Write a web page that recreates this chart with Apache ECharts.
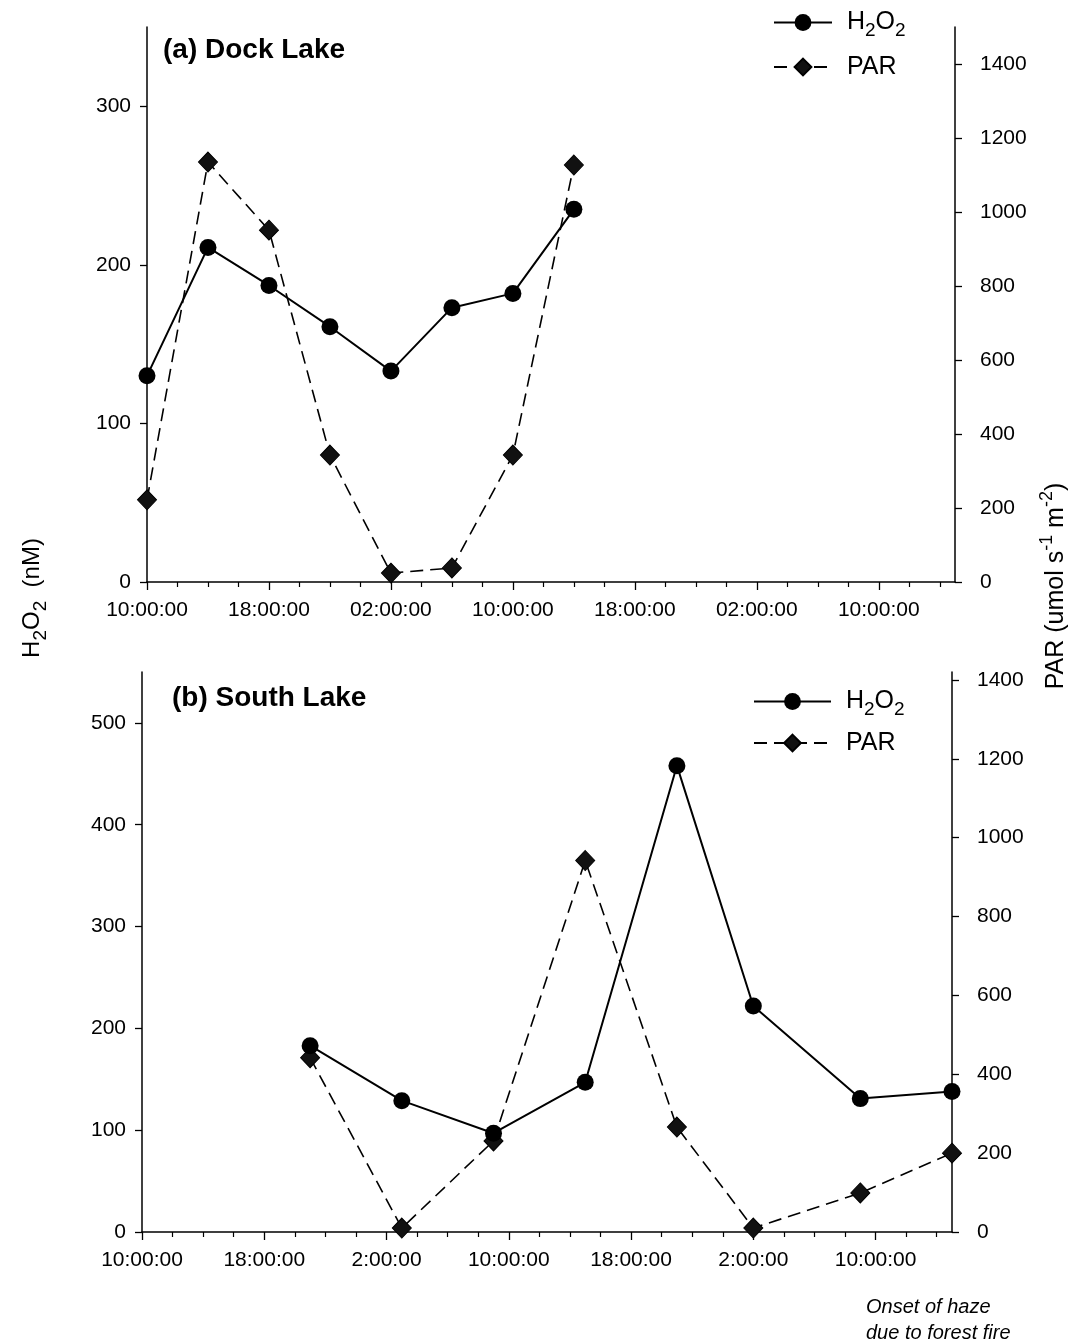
<!DOCTYPE html>
<html>
<head>
<meta charset="utf-8">
<script src="https://cdn.jsdelivr.net/npm/echarts@6/dist/echarts.min.js"></script>
<style>
html,body{margin:0;padding:0;background:#fff;}
#chart{width:1086px;height:1344px;}
</style>
</head>
<body>
<div id="chart"></div>
<script>
// ---- data (hours since 10:00:00 of first day) ----
const hoursTop = [0, 4, 8, 12, 16, 20, 24, 28];
const h2o2Top = [130, 211, 187, 161, 133, 173, 182, 235];
const parTop = [222, 1135, 951, 343, 24, 38, 343, 1127];

const hoursBottom = [11, 17, 23, 29, 35, 40, 47, 53];
const h2o2Bottom = [183, 129, 97, 147, 458, 222, 131, 138];
const parBottom = [442, 10, 231, 942, 266, 10, 99, 200];

const majorHours = [0, 8, 16, 24, 32, 40, 48];
const tickLabelsTop = ['10:00:00', '18:00:00', '02:00:00', '10:00:00', '18:00:00', '02:00:00', '10:00:00'];
const tickLabelsBottom = ['10:00:00', '18:00:00', '2:00:00', '10:00:00', '18:00:00', '2:00:00', '10:00:00'];
const leftTicksTop = [0, 100, 200, 300];
const rightTicksTop = [0, 200, 400, 600, 800, 1000, 1200, 1400];
const leftTicksBottom = [0, 100, 200, 300, 400, 500];
const rightTicksBottom = [0, 200, 400, 600, 800, 1000, 1200, 1400];

const FONT = '"Liberation Sans", Arial, Helvetica, sans-serif';
const minorHours = [];
for (let h = 2; h < 53; h += 2) if (h % 8 !== 0) minorHours.push(h);

const chart = echarts.init(document.getElementById('chart'));

function xMain(grid, labels) {
  return {
    type: 'value', gridIndex: grid, position: 'bottom', min: 0, max: 53,
    axisLine: { show: true, onZero: false, lineStyle: { color: '#000', width: 1.5 } },
    axisTick: { show: true, length: 8, lineStyle: { color: '#000', width: 1.3 }, customValues: majorHours },
    axisLabel: {
      customValues: majorHours, margin: 18, color: '#000', fontSize: 21, fontFamily: FONT,
      formatter: v => labels[majorHours.indexOf(Math.round(v))] || ''
    },
    splitLine: { show: false }
  };
}
function xMinor(grid) {
  return {
    type: 'value', gridIndex: grid, position: 'bottom', min: 0, max: 53,
    axisLine: { show: false, onZero: false },
    axisTick: { show: true, length: 5, lineStyle: { color: '#000', width: 1.2 }, customValues: minorHours },
    axisLabel: { show: false },
    splitLine: { show: false }
  };
}
function yAx(grid, pos, max, ticks, margin) {
  return {
    type: 'value', gridIndex: grid, position: pos, min: 0, max: max,
    axisLine: { show: true, onZero: false, lineStyle: { color: '#000', width: 1.5 } },
    axisTick: { show: true, length: 7, lineStyle: { color: '#000', width: 1.3 }, customValues: ticks },
    axisLabel: { customValues: ticks, margin: margin, color: '#000', fontSize: 21, fontFamily: FONT,
      formatter: v => String(v) },
    splitLine: { show: false }
  };
}
function pairs(xs, ys) { return xs.map((x, i) => [x, ys[i]]); }

const h2Style = { color: '#000', width: 2 };
const parLine = { color: '#000', width: 1.6, type: [13, 7] };

function legend(left, top, itemW, gap) {
  return {
    orient: 'vertical', left: left, top: top, itemWidth: itemW, itemHeight: 21, itemGap: gap,
    data: ['H2O2', 'PAR'],
    textStyle: {
      color: '#000', fontSize: 25, fontFamily: FONT, padding: [0, 0, 0, 10],
      rich: {
        n: { fontSize: 25, fontFamily: FONT, color: '#000', lineHeight: 36, verticalAlign: 'middle' },
        s: { fontSize: 19, fontFamily: FONT, color: '#000', lineHeight: 36, verticalAlign: 'bottom' }
      }
    },
    formatter: name => name === 'H2O2' ? '{n|H}{s|2}{n|O}{s|2}' : '{n|PAR}'
  };
}

const option = {
  backgroundColor: '#fff',
  animation: false,
  grid: [
    { left: 147, right: 131, top: 27, height: 555 },
    { left: 142, right: 134, top: 672, height: 560 }
  ],
  xAxis: [xMain(0, tickLabelsTop), xMinor(0), xMain(1, tickLabelsBottom), xMinor(1)],
  yAxis: [
    yAx(0, 'left', 350, leftTicksTop, 16),
    yAx(0, 'right', 1500, rightTicksTop, 25),
    yAx(1, 'left', 550, leftTicksBottom, 16),
    yAx(1, 'right', 1420, rightTicksBottom, 25)
  ],
  legend: [legend(768, 5, 58, 14), legend(748, 684, 77, 11)],
  series: [
    { name: 'H2O2', type: 'line', xAxisIndex: 0, yAxisIndex: 0, data: pairs(hoursTop, h2o2Top),
      symbol: 'circle', symbolSize: 17, lineStyle: h2Style, itemStyle: { color: '#000' }, clip: false, z: 3 },
    { name: 'PAR', type: 'line', xAxisIndex: 0, yAxisIndex: 1, data: pairs(hoursTop, parTop),
      symbol: 'diamond', symbolSize: [19, 20], lineStyle: parLine, itemStyle: { color: '#111', borderColor: '#000', borderWidth: 1 }, clip: false, z: 2 },
    { name: 'H2O2', type: 'line', xAxisIndex: 2, yAxisIndex: 2, data: pairs(hoursBottom, h2o2Bottom),
      symbol: 'circle', symbolSize: 17, lineStyle: h2Style, itemStyle: { color: '#000' }, clip: false, z: 3 },
    { name: 'PAR', type: 'line', xAxisIndex: 2, yAxisIndex: 3, data: pairs(hoursBottom, parBottom),
      symbol: 'diamond', symbolSize: [19, 20], lineStyle: parLine, itemStyle: { color: '#111', borderColor: '#000', borderWidth: 1 }, clip: false, z: 2 }
  ],
  graphic: [
    { type: 'text', left: 163, top: 36, style: { text: '(a) Dock Lake', font: 'bold 28px ' + FONT, fill: '#000' } },
    { type: 'text', left: 172, top: 684, style: { text: '(b) South Lake', font: 'bold 28px ' + FONT, fill: '#000' } },
    { type: 'text', x: 32, y: 598, rotation: Math.PI / 2,
      style: { text: '{n|H}{s|2}{n|O}{s|2}{n|  (nM)}', align: 'center', verticalAlign: 'middle', fill: '#000',
        rich: {
          n: { fontSize: 24, fontFamily: FONT, fill: '#000', lineHeight: 36, verticalAlign: 'middle' },
          s: { fontSize: 19, fontFamily: FONT, fill: '#000', lineHeight: 36, verticalAlign: 'bottom' }
        } } },
    { type: 'text', x: 1056, y: 586, rotation: Math.PI / 2,
      style: { text: '{n|PAR (umol s}{p|-1}{n| m}{p|-2}{n|)}', align: 'center', verticalAlign: 'middle', fill: '#000',
        rich: {
          n: { fontSize: 25, fontFamily: FONT, fill: '#000', lineHeight: 36, verticalAlign: 'middle' },
          p: { fontSize: 18, fontFamily: FONT, fill: '#000', lineHeight: 36, verticalAlign: 'top' }
        } } },
    { type: 'text', left: 866, top: 1294,
      style: { text: 'Onset of haze\ndue to forest fire', font: 'italic 20px ' + FONT, fill: '#000', lineHeight: 26 } }
  ]
};
chart.setOption(option);
</script>
</body>
</html>
